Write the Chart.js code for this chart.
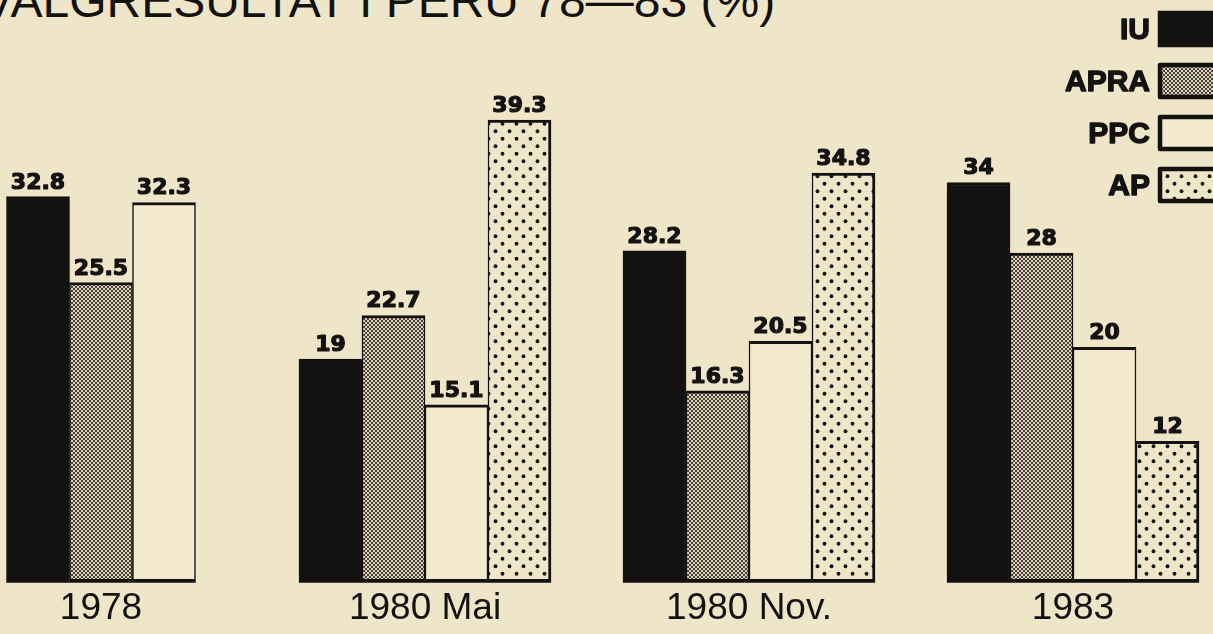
<!DOCTYPE html>
<html>
<head>
<meta charset="utf-8">
<script src="https://cdn.jsdelivr.net/npm/chart.js@4.4.1/dist/chart.umd.min.js"></script>
<style>
    html, body { margin: 0; padding: 0; }
    body { width: 1213px; height: 634px; overflow: hidden; position: relative; background: #efe5c8; }
    #title {
        position: absolute; left: -18px; top: -23px; margin: 0;
        font: 48px/48px "Liberation Sans", Arial, sans-serif; color: #141210; white-space: nowrap;
    }
    #wrap { position: absolute; left: -61px; top: 0; width: 1296px; height: 634px; }
</style>
</head>
<body>
<div id="title">VALGRESULTAT I PERU 78—83 (%)</div>
<div id="wrap"><canvas id="valgChart"></canvas></div>
<script>
// valgresultat i prosent
const categories = ['1978', '1980 Mai', '1980 Nov.', '1983'];
const partyNames = ['IU', 'APRA', 'PPC', 'AP'];
const iuValues = [32.8, 19, 28.2, 34];
const apraValues = [25.5, 22.7, 16.3, 28];
const ppcValues = [32.3, 15.1, 20.5, 20];
const apValues = [null, 39.3, 34.8, 12];

const INK = '#141210';
const PAPER = '#efe5c8';
const SHIFT = 61; // canvas sits 61px left of the page edge

// grå raster for APRA
const makeGreyPattern = () => {
    const c = document.createElement('canvas');
    c.width = 4; c.height = 4;
    const g = c.getContext('2d');
    g.fillStyle = '#48423a';
    g.fillRect(0, 0, 4, 4);
    g.fillStyle = '#ddd3b8';
    g.fillRect(0, 0, 2, 2);
    g.fillRect(2, 2, 2, 2);
    return g.createPattern(c, 'repeat');
};

// prikker for AP
const makeDotPattern = () => {
    const c = document.createElement('canvas');
    c.width = 14; c.height = 15;
    const g = c.getContext('2d');
    g.fillStyle = PAPER;
    g.fillRect(0, 0, 14, 15);
    g.fillStyle = INK;
    [[3.5, 3.75], [10.5, 11.25]].forEach(([x, y]) => {
        g.beginPath();
        g.arc(x, y, 1.9, 0, Math.PI * 2);
        g.fill();
    });
    return g.createPattern(c, 'repeat');
};

// fet tekst med litt ekstra strek, som i trykket
const heavyText = (ctx, text, x, y, weight) => {
    ctx.lineWidth = weight;
    ctx.lineJoin = 'round';
    ctx.strokeStyle = INK;
    ctx.strokeText(text, x, y);
    ctx.fillText(text, x, y);
};

const valueLabels = {
    id: 'valueLabels',
    afterDatasetsDraw(chart) {
        const ctx = chart.ctx;
        ctx.save();
        ctx.font = 'bold 22px "DejaVu Sans"';
        ctx.fillStyle = INK;
        ctx.textAlign = 'center';
        ctx.textBaseline = 'alphabetic';
        chart.data.datasets.forEach((ds, i) => {
            chart.getDatasetMeta(i).data.forEach((bar, j) => {
                const v = ds.data[j];
                if (v === null || v === undefined) return;
                heavyText(ctx, String(v), bar.x, bar.y - 8, 1.2);
            });
        });
        ctx.restore();
    }
};

const sideLegend = {
    id: 'sideLegend',
    afterDraw(chart) {
        const ctx = chart.ctx;
        ctx.save();
        ctx.font = 'bold 30px "Liberation Sans"';
        ctx.textAlign = 'right';
        ctx.textBaseline = 'middle';
        chart.data.datasets.forEach((ds, i) => {
            const cy = 29 + i * 52;
            const boxLeft = 1158 + SHIFT;
            ctx.fillStyle = ds.backgroundColor;
            ctx.fillRect(boxLeft, cy - 18, 90, 36);
            ctx.lineWidth = 4.5;
            ctx.strokeStyle = INK;
            ctx.strokeRect(boxLeft + 2, cy - 16, 90, 32);
            ctx.fillStyle = INK;
            heavyText(ctx, ds.label, boxLeft - 8, cy + 2, 1.4);
        });
        ctx.restore();
    }
};

const edge = (left, right) => ({ top: 3, bottom: 4, left: left, right: right });

new Chart(document.getElementById('valgChart'), {
    type: 'bar',
    data: {
        labels: categories,
        datasets: [
            { label: partyNames[0], data: iuValues, backgroundColor: INK, borderColor: INK, borderWidth: edge(3, 1.5) },
            { label: partyNames[1], data: apraValues, backgroundColor: makeGreyPattern(), borderColor: INK, borderWidth: edge(1.5, 1.5) },
            { label: partyNames[2], data: ppcValues, backgroundColor: '#f2e9cf', borderColor: INK, borderWidth: edge(1.5, 1.5) },
            { label: partyNames[3], data: apValues, backgroundColor: makeDotPattern(), borderColor: INK, borderWidth: edge(1.5, 3) },
        ]
    },
    options: {
        responsive: true,
        maintainAspectRatio: false,
        animation: false,
        layout: { padding: 0 },
        datasets: {
            bar: { barThickness: 63, skipNull: true, borderSkipped: false }
        },
        plugins: {
            legend: { display: false },
            tooltip: { enabled: false }
        },
        scales: {
            x: {
                grid: { display: false, drawTicks: false },
                border: { display: false },
                ticks: {
                    color: INK,
                    padding: 9,
                    font: { family: '"Liberation Sans"', size: 37, lineHeight: 0.9 }
                }
            },
            y: { display: false, min: 0, max: 49.5 }
        }
    },
    plugins: [valueLabels, sideLegend]
});
</script>
</body>
</html>
